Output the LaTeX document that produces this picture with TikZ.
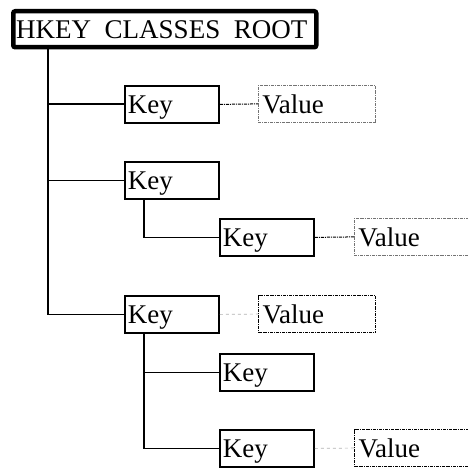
\documentclass[tikz,border=0pt]{standalone}
\usepackage{fontspec}
\setmainfont{Liberation Serif}
\usetikzlibrary{positioning}
\tikzset{
  rootbox/.style={rectangle,draw,line width=4.5pt,rounded corners=2pt,
                  anchor=north west,minimum width=303pt,minimum height=36pt,
                  text width=297pt,align=left,inner xsep=2pt,inner ysep=0pt,
                  text depth=0pt},
  keybox/.style={rectangle,draw,line width=1.8pt,anchor=north west,
                 minimum width=94pt,minimum height=37pt,
                 text width=88pt,align=left,inner xsep=3pt,inner ysep=0pt,
                 text depth=0pt},
  valbox/.style={rectangle,draw=black!55,line width=0.8pt,densely dashdotted,
                 anchor=north west,minimum width=117pt,minimum height=37pt,
                 text width=109pt,align=left,inner xsep=4pt,inner ysep=0pt,
                 text depth=0pt},
  valboxd/.style={valbox,draw=black,line width=1.1pt},
  tree/.style={line width=1.8pt},
  vlink/.style={line width=1pt,densely dashdotted},
  glink/.style={line width=0.7pt,dashed,draw=black!30},
}
\begin{document}
\begin{tikzpicture}[x=1pt,y=-1pt,font=\fontsize{27}{30}\selectfont]
  \useasboundingbox (0,0) rectangle (467,468);

  % root
  \node[rootbox] (root) at (11,9) {HKEY\enspace CLASSES\enspace ROOT};

  % first level
  \node[keybox] (key1) at (124,85) {Key};
  \node[valbox] (val1) at (258,85) {Value};
  \node[keybox] (key2) at (124,161) {Key};
  \node[keybox] (key3) at (124,295) {Key};
  \node[valboxd] (val3) at (258,295) {Value};

  % second level
  \node[keybox] (key21) at (219,218) {Key};
  \node[valbox] (val21) at (354,218) {Value};
  \node[keybox] (key31) at (219,353) {Key};
  \node[keybox] (key32) at (219,429) {Key};
  \node[valboxd] (val32) at (354,429) {Value};

  % tree lines
  \coordinate (trunk) at (48,45);
  \coordinate (sub2) at (144,199);
  \coordinate (sub3) at (144,333);
  \draw[tree] (trunk) |- (key3.west);
  \draw[tree] (trunk |- key1.west) -- (key1.west);
  \draw[tree] (trunk |- key2.west) -- (key2.west);
  \draw[tree] (sub2) |- (key21.west);
  \draw[tree] (sub3) |- (key32.west);
  \draw[tree] (sub3 |- key31.west) -- (key31.west);

  % values
  \draw[vlink] (key1.east) -- (val1.west);
  \draw[vlink] (key21.east) -- (val21.west);
  \draw[glink] (key3.east) -- (val3.west);
  \draw[glink] (key32.east) -- (val32.west);
\end{tikzpicture}
\end{document}
